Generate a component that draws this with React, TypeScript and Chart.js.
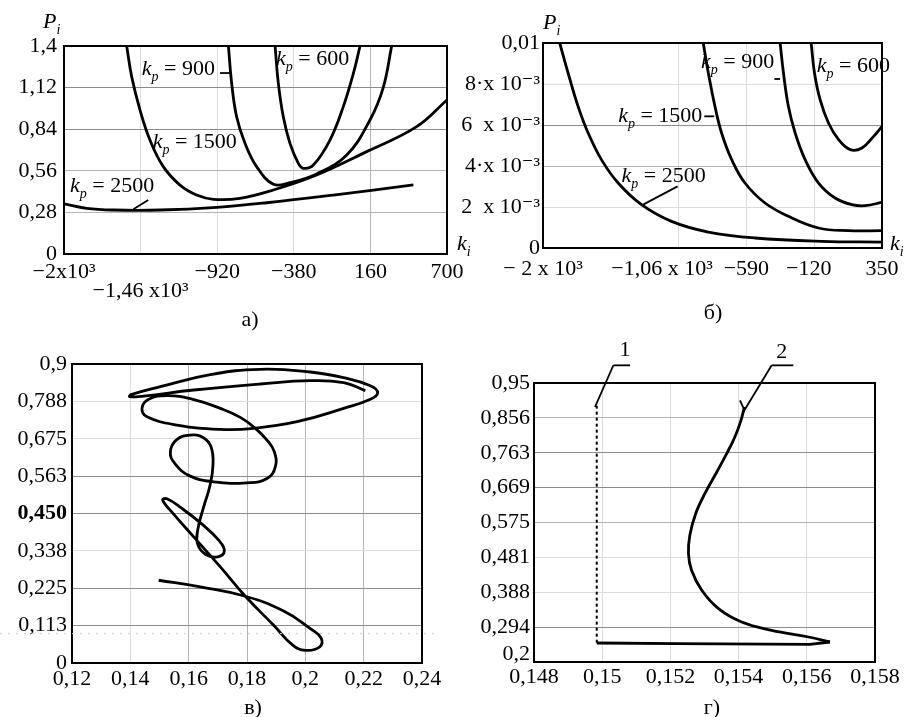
import React, { useEffect, useRef } from "react";
import { Chart, registerables } from "chart.js";
Chart.register(...registerables);

const FONT = "'Liberation Serif', 'Times New Roman', 'DejaVu Serif', serif";
const W = 910;
const H = 717;

// ---------- Panel а) ----------
const aXTicks = [-2000, -1460, -920, -380, 160, 700];
const aXLabels: any[] = ["−2x10³", ["", "−1,46 x10³"], "−920", "−380", "160", "700"];
const aYTicks = [0, 0.28, 0.56, 0.84, 1.12, 1.4];
const aYLabels = ["0", "0,28", "0,56", "0,84", "1,12", "1,4"];
const aKp2500X = [-2000, -1840, -1652, -1323, -924, -571, -101, 463];
const aKp2500Y = [0.337, 0.307, 0.296, 0.296, 0.314, 0.345, 0.397, 0.465];
const aKp1500X = [-1558, -1523, -1464, -1394, -1300, -1182, -1065, -947, -759, -524, -219, 134, 486, 700];
const aKp1500Y = [1.4, 1.194, 0.969, 0.767, 0.588, 0.464, 0.397, 0.368, 0.375, 0.431, 0.532, 0.689, 0.857, 1.037];
const aKp900X = [-841, -818, -783, -724, -642, -524, -407, -219, -7, 157, 251, 310];
const aKp900Y = [1.4, 1.149, 0.924, 0.745, 0.588, 0.469, 0.48, 0.539, 0.666, 0.902, 1.122, 1.4];
const aKp600X = [-512, -489, -454, -407, -348, -313, -242, -125, -31, 40, 87];
const aKp600Y = [1.4, 1.149, 0.924, 0.745, 0.61, 0.577, 0.599, 0.767, 0.992, 1.216, 1.4];
const aLabelKp = ["900", "600", "1500", "2500"];
const aLabelX = [-1452, -505, -1375, -1958];
const aLabelY = [1.205, 1.272, 0.713, 0.417];
const aLeaders = [
  [-900, 1.218, -830, 1.218],
  [-1511, 0.301, -1406, 0.3635],
];

// ---------- Panel б) ----------
const bXTicks = [-2000, -1060, -590, -120, 350];
const bXLabels = ["− 2 x 10³", "−1,06 x 10³      ", "−590", "−120  ", "350"];
const bYTicks = [0, 0.002, 0.004, 0.006, 0.008, 0.01];
const bYLabels = ["0", "2  x 10⁻³", "4·x 10⁻³", "6  x 10⁻³", "8·x 10⁻³", "0,01"];
const bKp2500X = [-1884, -1826, -1757, -1687, -1595, -1479, -1317, -1109, -854, -530, -67, 350];
const bKp2500Y = [0.01, 0.008537, 0.00691, 0.00561, 0.00431, 0.00317, 0.002114, 0.0013, 0.00078, 0.000488, 0.000325, 0.00029];
const bKp1500X = [-889, -854, -808, -762, -692, -600, -461, -299, -90, 118, 350];
const bKp1500Y = [0.01, 0.008537, 0.00691, 0.00561, 0.00431, 0.00317, 0.002195, 0.001545, 0.000976, 0.000846, 0.000846];
const bKp900X = [-356, -333, -299, -252, -183, -90, 25, 141, 234, 350];
const bKp900Y = [0.01, 0.008537, 0.00691, 0.00561, 0.00431, 0.00317, 0.002439, 0.002114, 0.002065, 0.002228];
const bKp600X = [-141, -118, -79, -21, 49, 130, 211, 292, 350];
const bKp600Y = [0.01, 0.008537, 0.007236, 0.006098, 0.005285, 0.004797, 0.004878, 0.005447, 0.005935];
const bLabelKp = ["900", "600", "1500", "2500"];
const bLabelX = [-905, -102, -1479, -1456];
const bLabelY = [0.008795, 0.0086, 0.00616, 0.003234];
const bLeaders = [
  [-396, 0.008244, -357, 0.008244],
  [-882, 0.006423, -813, 0.006423],
  [-1067, 0.003008, -1306, 0.002114],
];

// ---------- Panel в) ----------
const cXTicks = [0.12, 0.14, 0.16, 0.18, 0.2, 0.22, 0.24];
const cXLabels = ["0,12", "0,14", "0,16", "0,18", "0,2", "0,22", "0,24"];
const cYTicks = [0, 0.1125, 0.225, 0.3375, 0.45, 0.5625, 0.675, 0.7875, 0.9];
const cYLabels = ["0", "0,113", "0,225", "0,338", "0,450", "0,563", "0,675", "0,788", "0,9"];
const cX = [
  0.14972, 0.164, 0.17943, 0.19257, 0.20172, 0.20537, 0.20492, 0.2, 0.19577, 0.18915,
  0.17943, 0.17086, 0.16172, 0.15486, 0.15109, 0.15257, 0.15771, 0.16457, 0.17029, 0.17223,
  0.16994, 0.16572, 0.16309, 0.16309, 0.16515, 0.1672, 0.16834, 0.16766, 0.16492, 0.16057,
  0.156, 0.15372, 0.15543, 0.16057, 0.16857, 0.18, 0.18686, 0.18971, 0.18937, 0.18686,
  0.18286, 0.17771, 0.17086, 0.16114, 0.15257, 0.14629, 0.144, 0.14572, 0.156, 0.17086,
  0.18229, 0.19715, 0.21315, 0.22229, 0.2248, 0.22229, 0.21315, 0.20172, 0.18457, 0.16743,
  0.15029, 0.14023, 0.13977, 0.14457, 0.16172, 0.18457, 0.20172, 0.21315, 0.22057,
];
const cY = [
  0.2491, 0.229, 0.2009, 0.1567, 0.1035, 0.0753, 0.0482, 0.0382, 0.0532, 0.1135,
  0.2009, 0.2893, 0.3797, 0.448, 0.4902, 0.4942, 0.4651, 0.4179, 0.3697, 0.3375,
  0.3194, 0.3275, 0.3576, 0.3998, 0.4701, 0.5304, 0.5957, 0.6509, 0.679, 0.6861,
  0.673, 0.6358, 0.5987, 0.5625, 0.5454, 0.5424, 0.5555, 0.5906, 0.6358, 0.671,
  0.7062, 0.7393, 0.7664, 0.7946, 0.8046, 0.7936, 0.7664, 0.7413, 0.7162, 0.7032,
  0.7062, 0.7263, 0.7664, 0.7936, 0.8136, 0.8347, 0.8588, 0.8759, 0.884, 0.8679,
  0.8317, 0.8076, 0.8016, 0.8036, 0.8217, 0.8398, 0.8498, 0.8438, 0.8197,
];
const cFaintY = 0.0884;

// ---------- Panel г) ----------
const dXTicks = [0.148, 0.15, 0.152, 0.154, 0.156, 0.158];
const dXLabels = ["0,148", "0,15", "0,152", "0,154", "0,156", "0,158"];
const dYTicks = [0.2, 0.29375, 0.3875, 0.48125, 0.575, 0.66875, 0.7625, 0.85625, 0.95];
const dYLabels: any[] = [["0,2", ""], "0,294", "0,388", "0,481", "0,575", "0,669", "0,763", "0,856", "0,95"];
const d1X = [0.14984, 0.14984];
const d1Y = [0.252, 0.89];
const d2BaseX = [0.14984, 0.15218, 0.15609, 0.15668];
const d2BaseY = [0.2511, 0.2493, 0.2475, 0.2538];
const d2CurveX = [0.15668, 0.15605, 0.15497, 0.15409, 0.15341, 0.15292, 0.15262, 0.15253, 0.15257, 0.15274, 0.15301, 0.15336, 0.15365, 0.15389, 0.15407, 0.15417];
const d2CurveY = [0.2538, 0.2672, 0.2851, 0.3075, 0.3434, 0.3927, 0.4464, 0.4912, 0.5405, 0.5987, 0.6525, 0.7108, 0.76, 0.8048, 0.8496, 0.8855];
const dLabelText = ["1", "2"];
const dLabelX = [0.150669, 0.155263];
const dLabelY = [1.0378, 1.0333];
const dLeaders = [
  [0.150326, 0.9975, 0.150815, 0.9975],
  [0.150326, 0.9975, 0.149789, 0.8855],
  [0.15497, 0.9975, 0.155605, 0.9975],
  [0.15497, 0.9975, 0.154139, 0.872],
  [0.15404, 0.9034, 0.15415, 0.881],
];

// ---------- helpers ----------
const pts = (xs: number[], ys: number[]) => xs.map((x, i) => ({ x, y: ys[i] }));

function line(xs: number[], ys: number[], extra: any = {}) {
  return {
    data: pts(xs, ys),
    showLine: true,
    borderColor: "#000",
    borderWidth: 2.8,
    pointRadius: 0,
    tension: 0.4,
    fill: false,
    ...extra,
  };
}

function subText(ctx: CanvasRenderingContext2D, x: number, y: number, main: string, sub: string, rest: string, size = 22) {
  ctx.textBaseline = "alphabetic";
  ctx.textAlign = "left";
  ctx.fillStyle = "#000";
  ctx.font = `italic ${size}px ${FONT}`;
  ctx.fillText(main, x, y);
  let w = ctx.measureText(main).width;
  ctx.font = `italic ${Math.round(size * 0.62)}px ${FONT}`;
  ctx.fillText(sub, x + w, y + size * 0.28);
  w += ctx.measureText(sub).width;
  if (rest) {
    ctx.font = `${size}px ${FONT}`;
    ctx.fillText(rest, x + w, y);
  }
}

function caption(ctx: CanvasRenderingContext2D, text: string, x: number, y: number) {
  ctx.font = `22px ${FONT}`;
  ctx.fillStyle = "#000";
  ctx.textAlign = "center";
  ctx.textBaseline = "middle";
  ctx.fillText(text, x, y);
}

function leaders(chart: any, ctx: CanvasRenderingContext2D, segs: number[][]) {
  const xs = chart.scales.x;
  const ys = chart.scales.y;
  ctx.strokeStyle = "#000";
  ctx.lineWidth = 1.8;
  for (const s of segs) {
    ctx.beginPath();
    ctx.moveTo(xs.getPixelForValue(s[0]), ys.getPixelForValue(s[1]));
    ctx.lineTo(xs.getPixelForValue(s[2]), ys.getPixelForValue(s[3]));
    ctx.stroke();
  }
}

function kpLabels(chart: any, ctx: CanvasRenderingContext2D, vals: string[], lx: number[], ly: number[]) {
  const xs = chart.scales.x;
  const ys = chart.scales.y;
  vals.forEach((v, i) => {
    subText(ctx, xs.getPixelForValue(lx[i]), ys.getPixelForValue(ly[i]), "k", "p", " = " + v);
  });
}

type PanelSpec = {
  area: { left: number; top: number; right: number; bottom: number };
  yW: number;
  xH: number;
  xMin: number; xMax: number; yMin: number; yMax: number;
  xTicks: number[]; xLabels: any[]; yTicks: number[]; yLabels: any[];
  xGrid: string[]; yGrid: string[];
  xPad: number; yPad: number; xLineH?: number;
  yBoldIndex?: number;
  yTightIndex?: number;
  datasets: any[];
  draw: (chart: any, ctx: CanvasRenderingContext2D) => void;
};

function makeConfig(p: PanelSpec): any {
  const a = p.area;
  return {
    type: "scatter",
    data: { datasets: p.datasets },
    options: {
      responsive: false,
      animation: false,
      events: [],
      layout: {
        padding: { left: a.left - p.yW, top: a.top, right: W - a.right, bottom: H - a.bottom - p.xH },
      },
      plugins: { legend: { display: false }, tooltip: { enabled: false } },
      scales: {
        x: {
          type: "linear",
          min: p.xMin,
          max: p.xMax,
          afterBuildTicks: (s: any) => { s.ticks = p.xTicks.map((v) => ({ value: v })); },
          afterFit: (s: any) => { s.height = p.xH; },
          ticks: {
            autoSkip: false, maxRotation: 0, minRotation: 0, padding: p.xPad, color: "#000",
            font: { family: FONT, size: 22, lineHeight: p.xLineH ?? 1.2 },
            callback: (_v: any, i: number) => p.xLabels[i],
          },
          grid: { color: (c: any) => p.xGrid[c.index] ?? "#ddd", lineWidth: 1, drawTicks: false },
          border: { display: false },
        },
        y: {
          type: "linear",
          min: p.yMin,
          max: p.yMax,
          afterBuildTicks: (s: any) => { s.ticks = p.yTicks.map((v) => ({ value: v })); },
          afterFit: (s: any) => { s.width = p.yW; },
          ticks: {
            autoSkip: false, padding: p.yPad, color: "#000",
            font: (c: any) => ({
              family: FONT,
              size: 22,
              weight: c.index === p.yBoldIndex ? "bold" : "normal",
              lineHeight: c.index === p.yTightIndex ? 0.7 : 1.2,
            }),
            callback: (_v: any, i: number) => p.yLabels[i],
          },
          grid: { color: (c: any) => p.yGrid[c.index] ?? "#ddd", lineWidth: 1, drawTicks: false },
          border: { display: false },
        },
      },
    },
    plugins: [
      {
        id: "overlay",
        afterDraw(chart: any) {
          const ctx = chart.ctx as CanvasRenderingContext2D;
          const ca = chart.chartArea;
          ctx.save();
          ctx.strokeStyle = "#000";
          ctx.lineWidth = 2;
          ctx.strokeRect(ca.left, ca.top, ca.right - ca.left, ca.bottom - ca.top);
          p.draw(chart, ctx);
          ctx.restore();
        },
      },
    ],
  };
}

const LIGHT = "#dcdcdc";
const MID = "#b4b4b4";
const DARK = "#8c8c8c";

const factories: (() => any)[] = [
  () =>
    makeConfig({
      area: { left: 64, top: 46, right: 447, bottom: 254 },
      yW: 64, xH: 60,
      xMin: -2000, xMax: 700, yMin: 0, yMax: 1.4,
      xTicks: aXTicks, xLabels: aXLabels, yTicks: aYTicks, yLabels: aYLabels,
      xGrid: [LIGHT, LIGHT, LIGHT, LIGHT, MID, LIGHT],
      yGrid: [DARK, MID, MID, DARK, DARK, DARK],
      xPad: 9, yPad: 7, xLineH: 0.85,
      datasets: [
        line(aKp2500X, aKp2500Y),
        line(aKp1500X, aKp1500Y),
        line(aKp900X, aKp900Y),
        line(aKp600X, aKp600Y),
      ],
      draw: (chart, ctx) => {
        leaders(chart, ctx, aLeaders);
        kpLabels(chart, ctx, aLabelKp, aLabelX, aLabelY);
        subText(ctx, 43, 28, "P", "i", "");
        subText(ctx, 457, 250, "k", "i", "");
        caption(ctx, "а)", 250, 320);
      },
    }),
  () =>
    makeConfig({
      area: { left: 543, top: 43, right: 882, bottom: 248 },
      yW: 90, xH: 50,
      xMin: -2000, xMax: 350, yMin: 0, yMax: 0.01,
      xTicks: bXTicks, xLabels: bXLabels, yTicks: bYTicks, yLabels: bYLabels,
      xGrid: [LIGHT, LIGHT, LIGHT, LIGHT, LIGHT],
      yGrid: [DARK, LIGHT, MID, DARK, LIGHT, DARK],
      xPad: 8, yPad: 3,
      datasets: [
        line(bKp2500X, bKp2500Y),
        line(bKp1500X, bKp1500Y),
        line(bKp900X, bKp900Y),
        line(bKp600X, bKp600Y),
      ],
      draw: (chart, ctx) => {
        leaders(chart, ctx, bLeaders);
        kpLabels(chart, ctx, bLabelKp, bLabelX, bLabelY);
        subText(ctx, 543, 29, "P", "i", "");
        subText(ctx, 890, 250, "k", "i", "");
        caption(ctx, "б)", 713, 313);
      },
    }),
  () =>
    makeConfig({
      area: { left: 72, top: 364, right: 422, bottom: 663 },
      yW: 72, xH: 40,
      xMin: 0.12, xMax: 0.24, yMin: 0, yMax: 0.9,
      xTicks: cXTicks, xLabels: cXLabels, yTicks: cYTicks, yLabels: cYLabels,
      xGrid: [DARK, LIGHT, MID, MID, MID, MID, DARK],
      yGrid: [DARK, DARK, DARK, LIGHT, DARK, DARK, LIGHT, LIGHT, DARK],
      xPad: 3, yPad: 5, yBoldIndex: 4,
      datasets: [line(cX, cY, { tension: 0.45 })],
      draw: (chart, ctx) => {
        const yp = chart.scales.y.getPixelForValue(cFaintY);
        ctx.strokeStyle = "#d0d0d0";
        ctx.lineWidth = 1;
        ctx.setLineDash([2, 6]);
        ctx.beginPath();
        ctx.moveTo(0, yp);
        ctx.lineTo(440, yp);
        ctx.stroke();
        ctx.setLineDash([]);
        caption(ctx, "в)", 253, 708);
      },
    }),
  () =>
    makeConfig({
      area: { left: 534, top: 383, right: 875, bottom: 662 },
      yW: 90, xH: 40,
      xMin: 0.148, xMax: 0.158, yMin: 0.2, yMax: 0.95,
      xTicks: dXTicks, xLabels: dXLabels, yTicks: dYTicks, yLabels: dYLabels,
      xGrid: [DARK, LIGHT, LIGHT, LIGHT, LIGHT, DARK],
      yGrid: [DARK, DARK, LIGHT, LIGHT, MID, DARK, DARK, MID, DARK],
      xPad: 2, yPad: 4, yTightIndex: 0,
      datasets: [
        line(d1X, d1Y, { tension: 0, borderDash: [3, 3], borderWidth: 2 }),
        line(d2BaseX, d2BaseY, { tension: 0 }),
        line(d2CurveX, d2CurveY, { tension: 0.4 }),
      ],
      draw: (chart, ctx) => {
        leaders(chart, ctx, dLeaders);
        const xs = chart.scales.x;
        const ys = chart.scales.y;
        ctx.font = `22px ${FONT}`;
        ctx.fillStyle = "#000";
        ctx.textAlign = "center";
        ctx.textBaseline = "middle";
        dLabelText.forEach((t, i) => ctx.fillText(t, xs.getPixelForValue(dLabelX[i]), ys.getPixelForValue(dLabelY[i])));
        caption(ctx, "г)", 712, 708);
      },
    }),
];

function Panel({ make }: { make: () => any }) {
  const ref = useRef<HTMLCanvasElement>(null);
  useEffect(() => {
    const chart = new Chart(ref.current as HTMLCanvasElement, make());
    return () => chart.destroy();
  }, [make]);
  return (
    <canvas
      ref={ref}
      width={W}
      height={H}
      style={{ position: "absolute", left: 0, top: 0, width: W, height: H }}
    />
  );
}

export default function App() {
  return (
    <div style={{ position: "absolute", left: 0, top: 0, width: W, height: H, background: "#fff", overflow: "hidden" }}>
      {factories.map((f, i) => (
        <Panel key={i} make={f} />
      ))}
    </div>
  );
}
